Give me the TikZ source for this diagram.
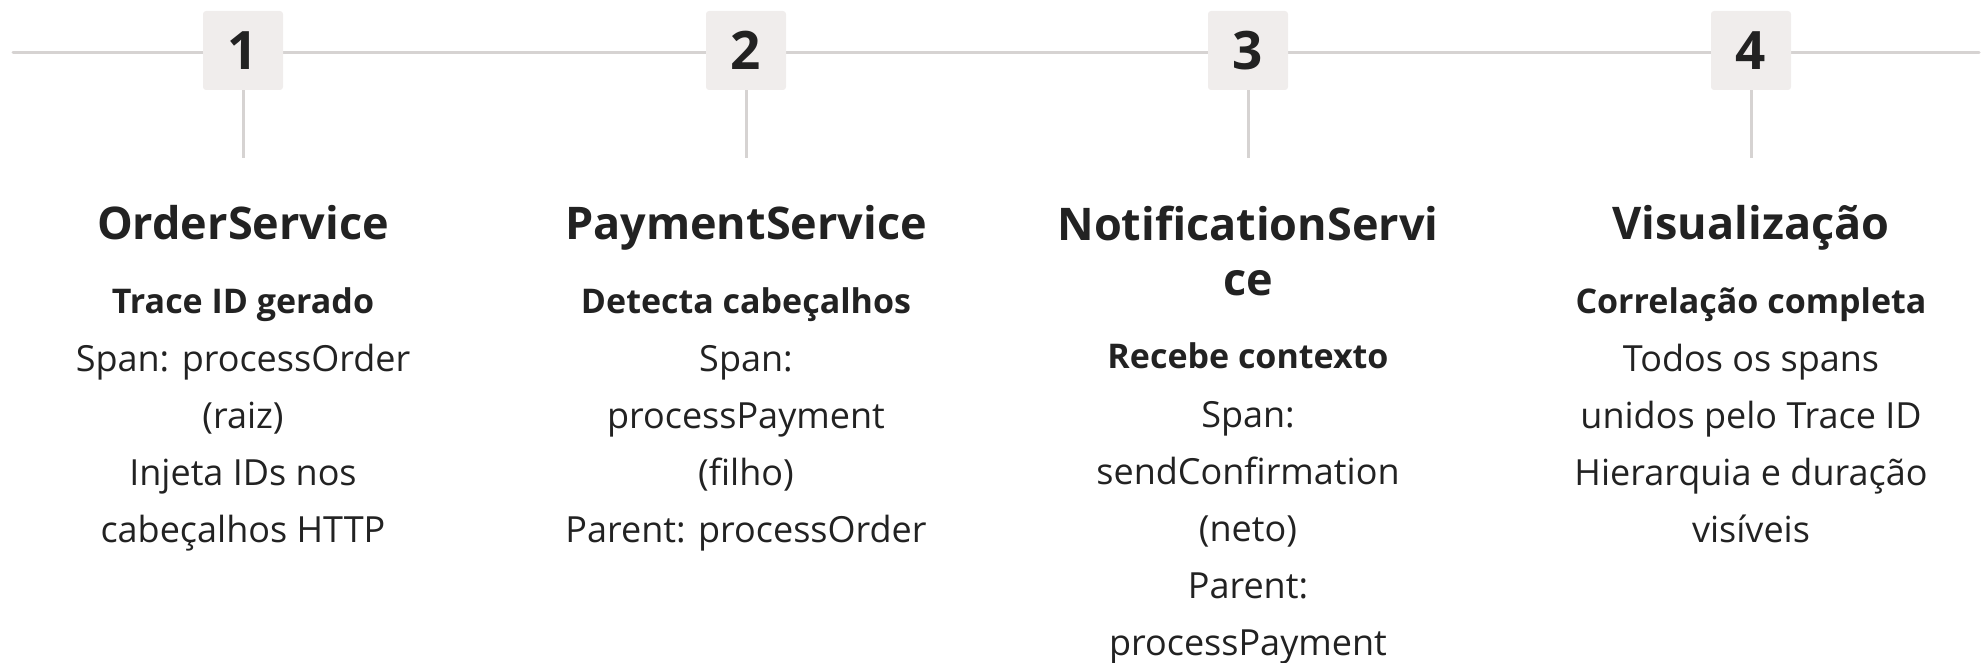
\documentclass[tikz,border=0pt]{standalone}
\usepackage{fontspec}
\setmainfont{Open Sans}
\definecolor{txt}{HTML}{222222}
\definecolor{boxfill}{HTML}{F0EDEC}
\definecolor{linec}{HTML}{D6D3D2}
\begin{document}
\begin{tikzpicture}[x=1pt,y=-1pt,
  numbox/.style={fill=boxfill,rounded corners=3pt,minimum width=80pt,minimum height=79pt,inner sep=0pt,text=txt,font=\fontsize{53}{60}\selectfont\bfseries},
  conn/.style={draw=linec,line width=3pt,line cap=round},
  ttl/.style={anchor=base,align=center,text=txt,inner sep=0pt,font=\fontsize{45}{55}\selectfont\bfseries},
  sub/.style={anchor=base,align=center,text=txt,inner sep=0pt,font=\fontsize{34}{57.2}\selectfont\bfseries},
  body/.style={anchor=base,align=center,text=txt,inner sep=0pt,font=\fontsize{36}{57.2}\selectfont}]
\useasboundingbox (0,0) rectangle (1981,663);
\coordinate (L) at (13,53);
\coordinate (R) at (1979,53);
\draw[conn] (L) -- (R);
\foreach \i/\x in {1/243,2/746,3/1248,4/1751}{
  \node[numbox] (n\i) at (\x,50.5) {\i};
  \coordinate (e\i) at (\x,158);
  \draw[conn,line cap=butt] (n\i.south) -- (e\i);
}
% (multi-line nodes: base anchor = baseline of the last line)
% column 1
\node[ttl] (t1) at (243,240) {OrderService};
\node[sub] (s1) at (243,313) {Trace ID gerado};
\node[body] (b1) at (243,542.6) {Span: processOrder\\(raiz)\\Injeta IDs nos\\cabeçalhos HTTP};
% column 2
\node[ttl] (t2) at (746,240) {PaymentService};
\node[sub] (s2) at (746,313) {Detecta cabeçalhos};
\node[body] (b2) at (746,542.6) {Span:\\processPayment\\(filho)\\Parent: processOrder};
% column 3
\node[ttl] (t3) at (1248,295) {NotificationServi\\ce};
\node[sub] (s3) at (1248,368) {Recebe contexto};
\node[body] (b3) at (1248,655.8) {Span:\\sendConfirmation\\(neto)\\Parent:\\processPayment};
% column 4
\node[ttl] (t4) at (1751,240) {Visualização};
\node[sub] (s4) at (1751,313) {Correlação completa};
\node[body] (b4) at (1751,542.6) {Todos os spans\\unidos pelo Trace ID\\Hierarquia e duração\\visíveis};
\end{tikzpicture}
\end{document}
